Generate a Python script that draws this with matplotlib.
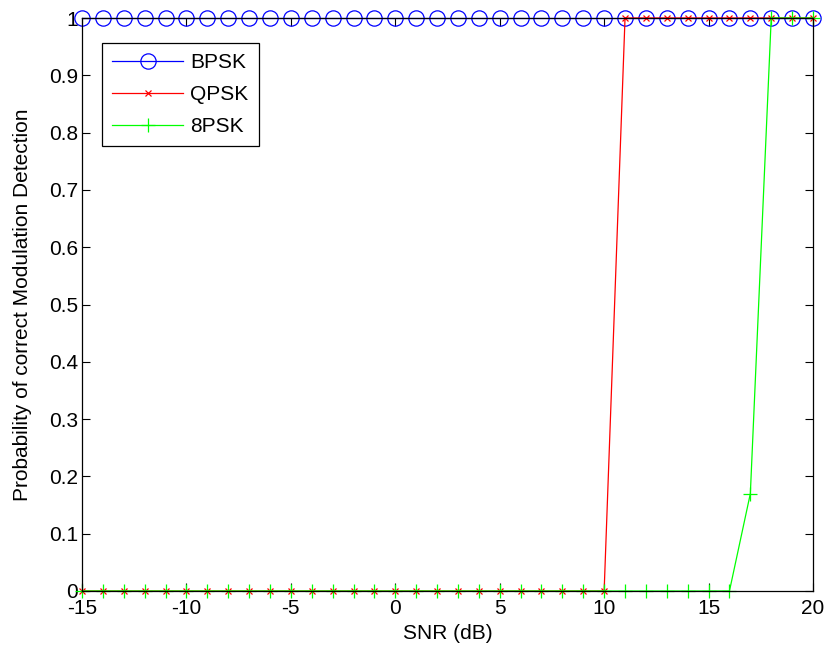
import numpy as np
import matplotlib.pyplot as plt

plt.rcParams['font.family'] = ['Liberation Sans', 'DejaVu Sans']
plt.rcParams['axes.unicode_minus'] = False

snr = list(range(-15, 21))
bpsk = [1.0] * 36
qpsk = [0.0] * 26 + [1.0] * 10
psk8 = [0.0] * 32 + [0.17] + [1.0] * 3

fig = plt.figure(figsize=(8.24, 6.51), dpi=100)
ax = fig.add_axes([82 / 824, 60 / 651, 731 / 824, 573 / 651])

ax.plot(snr, bpsk, '-o', color='#0000ff', lw=0.9, ms=11, mfc='none', mew=0.9,
        label='BPSK', clip_on=False)
ax.plot(snr, qpsk, '-x', color='#ff0000', lw=0.9, ms=5, mew=0.9,
        label='QPSK', clip_on=False)
ax.plot(snr, psk8, '-+', color='#00ff00', lw=0.9, ms=10, mew=0.9,
        label='8PSK', clip_on=False)

ax.set_xlim(-15, 20)
ax.set_ylim(0, 1)
ax.set_xticks(np.arange(-15, 21, 5))
ax.set_yticks(np.arange(0, 1.01, 0.1))
ax.set_yticklabels(['0', '0.1', '0.2', '0.3', '0.4', '0.5', '0.6', '0.7', '0.8', '0.9', '1'])
ax.tick_params(direction='in', top=True, right=True, length=6, width=0.8,
               labelsize=15)
ax.tick_params(axis='x', pad=6)
ax.tick_params(axis='y', pad=3)
for s in ax.spines.values():
    s.set_linewidth(0.9)
    s.set_zorder(5)

ax.set_xlabel('SNR (dB)', fontsize=15, labelpad=4)
ax.set_ylabel('Probability of correct Modulation Detection', fontsize=15, labelpad=12)

leg = ax.legend(loc='upper left', bbox_to_anchor=(0.027, 0.957), fontsize=15,
                fancybox=False, edgecolor='black', framealpha=1,
                handlelength=3.4, handletextpad=0.35, borderpad=0.5,
                labelspacing=0.62, borderaxespad=0)
leg.get_frame().set_linewidth(0.9)

fig.savefig('out.png', dpi=100)
